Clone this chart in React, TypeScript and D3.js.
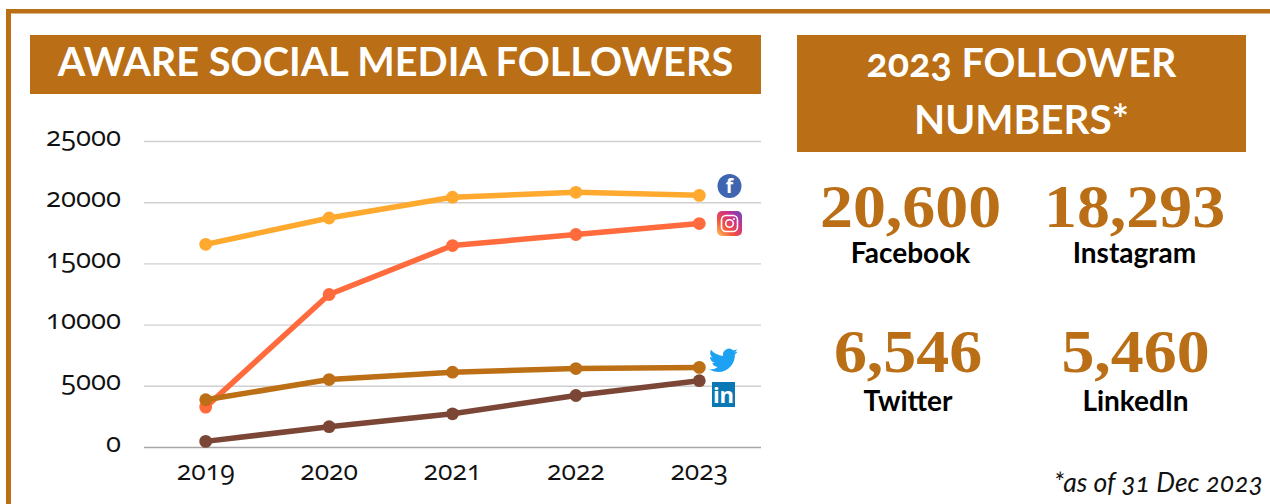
import React from "react";
import * as d3 from "d3";

const years = ["2019", "2020", "2021", "2022", "2023"];
const yTicks = [0, 5000, 10000, 15000, 20000, 25000];
const seriesNames = ["Facebook", "Instagram", "Twitter", "LinkedIn"];
const facebook = [16600, 18750, 20450, 20850, 20600];
const instagram = [3300, 12500, 16500, 17400, 18293];
const twitter = [3900, 5550, 6150, 6450, 6546];
const linkedin = [500, 1700, 2750, 4250, 5460];
const seriesValues = [facebook, instagram, twitter, linkedin];
const statValues = ["20,600", "18,293", "6,546", "5,460"];

const seriesColors = ["#FFA92F", "#FF6B3D", "#BC6F15", "#7B4636"];
const BRAND = "#BA6E15";
const SANS = "'Open Sans', Lato, sans-serif";
const HUMANIST = "Lato, 'Open Sans', sans-serif";
const DISPLAY = "'Liberation Serif', serif";

// Stat grid: two columns, two rows
const statX = [910.5, 1134.5, 908, 1135.5];
const statY = [227, 227, 372, 372];
const statLabelY = [263, 263, 411, 411];

const x = d3.scaleBand<string>().domain(years).range([144, 761]);
const y = d3.scaleLinear().domain([0, 25000]).range([447.5, 141.5]);
const cx = (year: string) => (x(year) as number) + x.bandwidth() / 2;

const line = d3
  .line<number>()
  .x((_, i) => cx(years[i]))
  .y((v) => y(v));

const BIRD =
  "M23.953 4.57a10 10 0 01-2.825.775 4.958 4.958 0 002.163-2.723c-.951.555-2.005.959-3.127 1.184a4.92 4.92 0 00-8.384 4.482C7.69 8.095 4.067 6.13 1.64 3.162a4.822 4.822 0 00-.666 2.475c0 1.71.87 3.213 2.188 3.995a4.904 4.904 0 01-2.228-.616v.06a4.923 4.923 0 003.946 4.827 4.996 4.996 0 01-2.212.085 4.936 4.936 0 004.604 3.417 9.867 9.867 0 01-6.102 2.105c-.39 0-.779-.023-1.17-.067a13.995 13.995 0 007.557 2.209c9.053 0 13.998-7.496 13.998-13.985 0-.21 0-.42-.015-.63A9.935 9.935 0 0024 4.59z";

function SocialIcons() {
  return (
    <g>
      <defs>
        <linearGradient id="igFill" x1="0" y1="1" x2="1" y2="0">
          <stop offset="0" stopColor="#FDC659" />
          <stop offset="0.35" stopColor="#F4503F" />
          <stop offset="0.7" stopColor="#C6308F" />
          <stop offset="1" stopColor="#5B4FC4" />
        </linearGradient>
      </defs>
      <circle cx={729.5} cy={186} r={12} fill="#3F65B0" />
      <text x={729.5} y={193} textAnchor="middle" fontFamily={SANS} fontWeight={700} fontSize={19} fill="#fff">
        f
      </text>
      <rect x={717} y={211} width={25} height={25} rx={5} fill="url(#igFill)" />
      <rect x={721.5} y={215.5} width={16} height={16} rx={4.5} fill="none" stroke="#fff" strokeWidth={1.6} />
      <circle cx={729.5} cy={223.5} r={3.8} fill="none" stroke="#fff" strokeWidth={1.6} />
      <circle cx={734} cy={219} r={1} fill="#fff" />
      <path d={BIRD} fill="#1DA1F2" transform="translate(709,346) scale(1.2)" />
      <rect x={712} y={382} width={23} height={25} fill="#0A78B5" />
      <text x={723.5} y={403} textAnchor="middle" fontFamily={SANS} fontWeight={700} fontSize={22} fill="#fff">
        in
      </text>
    </g>
  );
}

export default function App() {
  return (
    <svg
      width={1270}
      height={504}
      viewBox="0 0 1270 504"
      style={{ position: "absolute", left: 0, top: 0, background: "#fff" }}
    >
      {/* frame: open on the right and at the bottom */}
      <rect x={6} y={9} width={1264} height={4.5} fill={BRAND} />
      <rect x={6} y={9} width={5} height={495} fill={BRAND} />

      <rect x={30} y={35} width={731} height={59} fill={BRAND} />
      <text x={395.5} y={76} textAnchor="middle" fill="#fff" fontFamily={HUMANIST} fontSize={39.7} fontWeight={700}>
        AWARE SOCIAL MEDIA FOLLOWERS
      </text>

      {yTicks.map((t) => (
        <g key={t}>
          <line
            x1={144}
            x2={761}
            y1={y(t)}
            y2={y(t)}
            stroke={t === 0 ? "#A6A6A6" : "#CFCFCF"}
            strokeWidth={1.4}
          />
          <text
            x={121}
            y={y(t) + 4}
            textAnchor="end"
            fontFamily={SANS}
            fontSize={27.5}
            fill="#111"
            style={{ fontFeatureSettings: "'onum'" }}
          >
            {t}
          </text>
        </g>
      ))}

      {years.map((yr) => (
        <text
          key={yr}
          x={cx(yr)}
          y={480}
          textAnchor="middle"
          fontFamily={SANS}
          fontSize={26.5}
          fill="#111"
          style={{ fontFeatureSettings: "'onum'" }}
        >
          {yr}
        </text>
      ))}

      {seriesNames.map((name, s) => (
        <g key={name}>
          <path
            d={line(seriesValues[s]) as string}
            fill="none"
            stroke={seriesColors[s]}
            strokeWidth={5.5}
            strokeLinejoin="round"
          />
          {seriesValues[s].map((v, i) => (
            <circle key={years[i]} cx={cx(years[i])} cy={y(v)} r={6.4} fill={seriesColors[s]} />
          ))}
        </g>
      ))}

      <SocialIcons />

      <rect x={797} y={35} width={449} height={117} fill={BRAND} />
      <text
        x={1021.5}
        y={77}
        textAnchor="middle"
        fill="#fff"
        fontFamily={HUMANIST}
        fontSize={39.5}
        fontWeight={700}
        style={{ fontFeatureSettings: "'onum'" }}
      >
        2023 FOLLOWER
      </text>
      <text x={1021.5} y={134} textAnchor="middle" fill="#fff" fontFamily={HUMANIST} fontSize={40.5} fontWeight={700}>
        NUMBERS*
      </text>

      {seriesNames.map((name, i) => (
        <g key={name}>
          {/* the display figures are set slightly wide */}
          <text
            transform={`translate(${statX[i]},${statY[i]}) scale(1.08,1)`}
            textAnchor="middle"
            fill={BRAND}
            fontFamily={DISPLAY}
            fontWeight={700}
            fontSize={61}
          >
            {statValues[i]}
          </text>
          <text
            x={statX[i]}
            y={statLabelY[i]}
            textAnchor="middle"
            fill="#000"
            fontFamily={HUMANIST}
            fontWeight={700}
            fontSize={28}
          >
            {name}
          </text>
        </g>
      ))}

      <text
        x={1263}
        y={492}
        textAnchor="end"
        fontFamily={HUMANIST}
        fontStyle="italic"
        fontSize={26.5}
        fill="#111"
        style={{ fontFeatureSettings: "'onum'" }}
      >
        *as of 31 Dec 2023
      </text>
    </svg>
  );
}
